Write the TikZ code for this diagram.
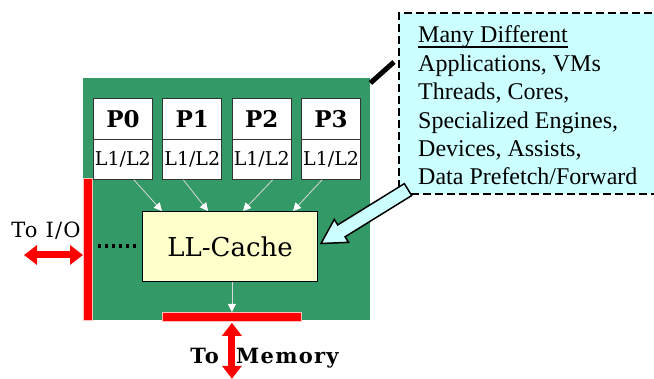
\documentclass[tikz,border=0pt]{standalone}
\usepackage{fontspec}
\setmainfont{DejaVu Serif}
\newfontfamily\notefont{Liberation Serif}
\newfontfamily\widefont[LetterSpace=6]{DejaVu Serif}
\usetikzlibrary{calc,arrows.meta}
\definecolor{chipgreen}{RGB}{51,153,102}
\definecolor{cachefill}{RGB}{255,255,204}
\definecolor{notefill}{RGB}{204,255,255}
\begin{document}
\begin{tikzpicture}[x=1pt,y=-1pt,
  chipbg/.style={fill=chipgreen, draw=none, minimum width=287pt, minimum height=242pt, anchor=north west, inner sep=0pt},
  bar/.style={fill=red, draw=red!25, line width=0.8pt, inner sep=0pt, anchor=north west},
  corebox/.style={fill=white, draw=black!80, line width=0.8pt, minimum width=59pt, inner sep=0pt, anchor=north west},
  cachebox/.style={fill=cachefill, draw=black, line width=1pt, minimum width=175pt, minimum height=70pt, anchor=north west, inner sep=0pt, font=\fontsize{26}{28}\selectfont},
  feed/.style={draw=white!85!black, line width=0.8pt, -{Triangle[width=8pt,length=8pt,color=white]}},
  dots/.style={draw=black, line width=4pt, dash pattern=on 3.5pt off 3.5pt},
  link/.style={draw=red, line width=7pt, {Triangle[width=19pt,length=13pt]}-{Triangle[width=19pt,length=13pt]}},
  notebox/.style={fill=notefill, draw=black, line width=1.6pt, dash pattern=on 8pt off 4pt, anchor=north west, minimum width=270pt, minimum height=181pt, inner sep=0pt},
  noteline/.style={font=\notefont\fontsize{24}{28}\selectfont, anchor=base west, inner sep=0pt},
  pointer/.style={fill=notefill, draw=black, line width=1.5pt, line join=miter},
  label/.style={inner sep=0pt, font=\widefont\fontsize{21}{24}\selectfont},
  boldlabel/.style={inner sep=0pt, font=\widefont\bfseries\fontsize{21}{24}\selectfont}]
\clip (0,0) rectangle (654,379);

% chip die with the I/O and memory ports
\node[chipbg] (chip) at (83,78) {};
\node[bar, minimum width=9pt, minimum height=142pt] (iobar) at (83,178) {};
\node[bar, minimum width=139pt, minimum height=9pt] (membar) at (162,312) {};

% four cores with private caches
\foreach \i in {0,1,2,3} {
  \pgfmathsetmacro{\px}{93+69.4*\i}
  \node[corebox, minimum height=41pt, font=\bfseries\fontsize{23}{26}\selectfont] (p\i) at (\px,98) {P\i};
  \node[corebox, minimum height=40pt, font=\fontsize{19}{20}\selectfont] (c\i) at (\px,139) {L1/L2};
}

% shared last-level cache
\node[cachebox] (cache) at (142,211) {LL-Cache};

\draw[feed] ([xshift=11pt]c0.south) -- ($(cache.north west)+(20,0)$);
\draw[feed] ([xshift=-9pt]c1.south) -- ($(cache.north west)+(66,0)$);
\draw[feed] ([xshift=11pt]c2.south) -- ($(cache.north west)+(101,0)$);
\draw[feed] ([xshift=-9pt]c3.south) -- ($(cache.north west)+(151,0)$);
\draw[feed] (cache.south -| membar.north) -- (membar.north);

\coordinate (dotl) at (iobar.east |- cache.west);
\draw[dots] ($(dotl)+(5,0)$) -- ($(cache.west)+(-4,0)$);

% external links
\coordinate (iostart) at (24,255);
\draw[link] (iostart) -- (iostart -| iobar.west);
\coordinate (memend) at ($(membar.south)+(0,57)$);
\draw[link] ($(membar.south)+(0,1)$) -- (memend);

\node[label, anchor=base] (tio) at (46,238) {To I/O};
\node[boldlabel, anchor=base east] (tto) at (219,364) {To};
\node[boldlabel, anchor=base west] (tmem) at (236,364) {Memory};

% callout
\node[notebox] (note) at (398,12) {};
\draw[line width=5pt] ($(chip.north east)+(0,5)$) -- ($(note.north west)+(-4,50)$);

\coordinate (at) at ($(cache.east)+(3,-3)$);
\coordinate (ab) at ($(note.south west)+(10,-5)$);
\coordinate (ah) at ($(at)!24pt!(ab)$);
\filldraw[pointer] (at) -- ($(ah)!13.5pt!90:(ab)$) -- ($(ah)!7pt!90:(ab)$)
  -- ($(ab)!7pt!-90:(ah)$) -- ($(ab)!7pt!90:(ah)$)
  -- ($(ah)!7pt!-90:(ab)$) -- ($(ah)!13.5pt!-90:(ab)$) -- cycle;

\node[noteline] (n1) at (418,43) {Many Different};
\draw[line width=1.4pt] ($(n1.base west)+(0,4)$) -- ($(n1.base east)+(0,4)$);
\node[noteline] (n2) at (418,71.4) {Applications, VMs};
\node[noteline] (n3) at (418,99.8) {Threads, Cores,};
\node[noteline] (n4) at (418,128.2) {Specialized Engines,};
\node[noteline] (n5) at (418,156.6) {Devices, Assists,};
\node[noteline] (n6) at (418,185) {Data Prefetch/Forward};
\end{tikzpicture}
\end{document}
